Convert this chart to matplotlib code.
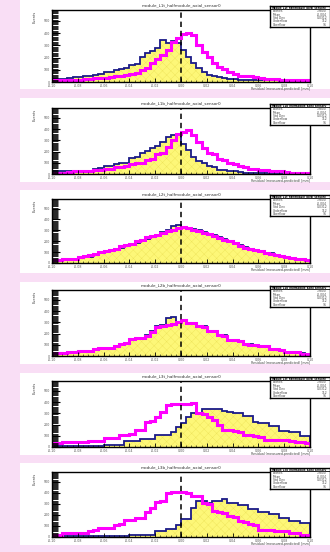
import numpy as np
import matplotlib
matplotlib.use('Agg')
import matplotlib.pyplot as plt
from matplotlib.patches import Rectangle
from matplotlib.ticker import MultipleLocator

# ---------------- data (per-mille of axis height, 50 bins) ----------------
x_edges = np.linspace(-0.1, 0.1, 51)
x_ticks = np.linspace(-0.1, 0.1, 11)

titles = ["module_L1t_halfmodule_axial_sensor0",
          "module_L1b_halfmodule_axial_sensor0",
          "module_L2t_halfmodule_axial_sensor0",
          "module_L2b_halfmodule_axial_sensor0",
          "module_L3t_halfmodule_axial_sensor0",
          "module_L3b_halfmodule_axial_sensor0"]

blue_1 = [40,44,48,58,64,70,78,84,92,118,132,145,165,180,198,230,255,350,400,430,470,580,540,570,540,440,350,260,190,140,100,85,70,50,45,40,32,30,28,27,26,25,25,24,23,22,22,21,20,20]
mag_1 = [25,27,28,29,30,32,42,46,50,53,57,70,78,85,92,110,125,170,200,260,320,370,440,560,610,670,675,650,510,420,350,260,210,175,135,115,90,85,80,75,50,46,44,40,32,30,28,27,26,25]

blue_2 = [40,40,40,40,42,44,46,50,75,85,115,125,150,160,170,235,255,320,345,400,420,490,560,590,610,460,360,260,190,170,115,100,60,55,50,45,25,22,20,20,20,20,18,18,18,16,16,15,15,15]
mag_2 = [20,20,22,35,38,40,42,45,65,68,72,75,105,110,118,150,160,170,215,225,300,320,410,515,600,630,660,590,490,390,320,300,225,215,165,155,115,105,75,72,68,65,42,40,38,36,22,20,20,20]

blue_3 = [30,40,50,50,60,80,110,100,120,150,170,180,200,230,260,280,320,340,380,420,440,480,510,580,590,560,550,530,510,480,460,430,400,370,340,310,280,250,220,210,190,160,150,130,110,90,80,70,60,50]
mag_3 = [40,50,60,60,70,90,110,130,140,170,180,200,220,260,280,300,340,360,400,420,430,470,500,520,550,560,550,520,500,470,450,420,390,360,340,310,270,240,220,200,180,160,140,120,110,100,80,70,60,50]

blue_4 = [35,36,38,58,60,62,64,66,105,110,112,118,140,175,185,265,270,278,320,380,455,465,575,585,520,540,505,495,455,450,385,375,325,315,250,240,232,185,178,170,152,148,105,100,95,68,64,60,38,34]
mag_4 = [45,50,52,65,68,70,74,78,110,118,122,128,150,185,192,260,270,280,310,370,440,455,475,490,520,540,505,495,450,440,385,375,320,310,250,240,230,180,170,165,150,145,105,100,95,65,60,55,35,30]

blue_5 = [20,20,20,20,20,20,20,20,22,22,35,35,35,35,85,85,85,120,120,120,185,185,185,220,310,360,460,510,510,570,570,580,580,550,535,510,510,470,470,385,370,370,320,320,245,245,220,220,160,160]
mag_5 = [65,68,70,70,72,72,75,92,95,98,130,135,140,180,185,190,255,265,380,390,460,535,640,645,648,650,648,660,520,495,460,410,335,265,255,238,232,188,182,162,158,112,108,110,102,100,98,72,70,68]

blue_6 = [10,10,10,10,10,10,10,10,10,10,10,10,20,20,20,36,36,36,36,36,87,87,120,120,190,270,270,450,550,550,530,550,550,580,520,520,500,500,430,430,390,390,360,360,290,290,240,240,215,215]
mag_6 = [34,38,55,58,60,62,64,95,102,135,140,145,185,195,255,265,285,295,390,450,545,555,675,685,690,700,680,635,625,525,515,395,385,370,325,315,245,235,195,185,115,110,108,92,90,88,62,58,38,34]

blues = [blue_1, blue_2, blue_3, blue_4, blue_5, blue_6]
mags = [mag_1, mag_2, mag_3, mag_4, mag_5, mag_6]

stat_labels = ["Entries", "Mean", "Std Dev", "Underflow", "Overflow"]
stat_values = ["79800", "-0.004", "0.0312", "112", "96"]

# ---------------- layout (pixels) ----------------
W, H = 330, 552
layout = [(0, 89, 10, 82), (98, 182, 108, 174), (190, 273, 199, 263),
          (282, 364, 290, 356), (373, 455, 381, 447), (463, 545, 472, 537)]

plt.rcParams['hatch.linewidth'] = 0.3
fig = plt.figure(figsize=(W / 100, H / 100), dpi=100)
fig.patch.set_facecolor('#f9def5')

def fx(p):
    return p / W

def fy(p):
    return 1 - p / H

PT = 0.72  # points per pixel

for i in range(6):
    wt, wb, at, ab = layout[i]
    fig.add_artist(Rectangle((fx(20), fy(wb)), fx(W - 20), (wb - wt) / H,
                             transform=fig.transFigure, facecolor='white',
                             edgecolor='none', zorder=-2))
    ax = fig.add_axes([fx(52), fy(ab), fx(258), (ab - at) / H])
    ax.stairs(blues[i], x_edges, baseline=0, fill=True, facecolor='#fdf778',
              edgecolor='#eee45c', hatch='xxxx', linewidth=0)
    ax.stairs(blues[i], x_edges, baseline=0, color='#1a1a88', lw=1.3)
    ax.stairs(mags[i], x_edges, baseline=0, color='#ff00ff', lw=2.2)
    ax.axvline(0, color='black', ls=(0, (3.5, 2.5)), lw=1.1)
    ax.set_xlim(-0.1, 0.1)
    ax.set_ylim(0, 1000)
    ax.set_xticks(x_ticks)
    ax.set_xticklabels([f"{t:.2f}" for t in x_ticks])
    ax.xaxis.set_minor_locator(MultipleLocator(0.004))
    ax.yaxis.set_major_locator(MultipleLocator(170))
    ax.yaxis.set_minor_locator(MultipleLocator(17))
    for s in ax.spines.values():
        s.set_linewidth(1.0)
    ax.tick_params(axis='x', which='major', direction='in', length=4 * PT,
                   width=0.6, labelsize=2.3, pad=1.5, colors='black',
                   labelcolor='#555555')
    ax.tick_params(axis='x', which='minor', direction='in', length=2 * PT, width=0.4)
    ax.tick_params(axis='y', which='major', direction='in', length=8 * PT,
                   width=0.8, labelsize=2.3, pad=1.5)
    ax.tick_params(axis='y', which='minor', direction='in', length=6 * PT, width=0.6)
    yt = [t for t in ax.get_yticks() if 0 <= t <= 1000]
    ax.set_yticks(yt)
    ax.set_yticklabels([f"{int(round(t / 170 * 100))}" for t in yt], color='#555555')
    ax.set_facecolor('white')

    fig.text(fx(181), fy(at - 5), titles[i], ha='center', va='center',
             fontsize=3.0, color='#333333')
    fig.text(fx(35), fy(at + 1), 'Events', rotation=90, ha='center', va='top',
             fontsize=2.6, color='#444444')
    fig.text(fx(310), fy(ab + 7), 'Residual (measured-predicted) [mm]', ha='right',
             va='center', fontsize=2.3, color='#444444')

    # stats box
    bt, bb = at - 4, at + 17
    sax = fig.add_axes([fx(270), fy(bb), fx(60), (bb - bt) / H], zorder=5)
    sax.set_xlim(0, 60)
    sax.set_ylim(bb - bt, 0)
    sax.set_xticks([])
    sax.set_yticks([])
    for s in sax.spines.values():
        s.set_linewidth(1.0)
    sax.axhline(3.2, color='black', lw=0.6)
    sax.text(1.5, 1.6, titles[i], fontsize=1.8, va='center', color='black',
             fontweight='bold')
    for k, (lab, val) in enumerate(zip(stat_labels, stat_values)):
        y = 5.3 + k * 3.4
        sax.text(3, y, lab, fontsize=2.2, va='center', color='#444444')
        sax.text(57, y, val, fontsize=2.2, va='center', ha='right', color='#444444')

fig.savefig('out.png', dpi=100, facecolor=fig.get_facecolor())
